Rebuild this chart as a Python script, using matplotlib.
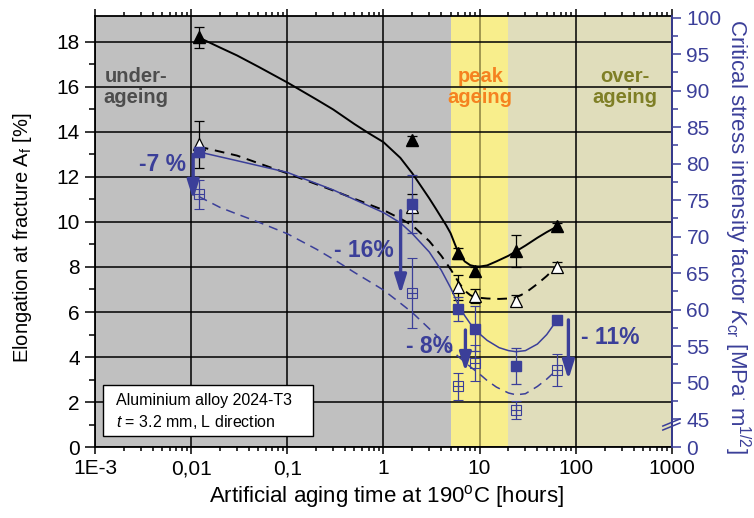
# -*- coding: utf-8 -*-
"""
Elongation at fracture and critical stress intensity factor of 2024-T3
versus artificial aging time at 190 C.
"""

import matplotlib
matplotlib.use("Agg")
import matplotlib.pyplot as plt
from matplotlib.patches import Rectangle

plt.rcParams['font.family'] = ['Liberation Sans', 'DejaVu Sans']
plt.rcParams['mathtext.fontset'] = 'custom'
plt.rcParams['mathtext.rm'] = 'Liberation Sans'
plt.rcParams['mathtext.it'] = 'Liberation Sans:italic'

# Colours
blue = '#3b3f99'
grayBg = '#c0c0c0'
yellowBg = '#f8ee8c'
beigeBg = '#e0ddbb'

# Measured points (aging time in hours)
times = [0.012, 2.0, 6.0, 9.0, 24.0, 64.0]

# Elongation at fracture A_f [%]
elongFilled = [18.2, 13.65, 8.6, 7.8, 8.7, 9.8]
elongFilledErr = [0.45, 0.15, 0.25, 0.2, 0.7, 0.15]
elongOpen = [13.45, 10.65, 7.1, 6.7, 6.5, 8.0]
elongOpenErr = [1.05, 0.6, 0.55, 0.3, 0.25, 0.2]

# Critical stress intensity factor K_cr [MPa m^1/2]
kcrFilled = [81.6, 74.5, 60.1, 57.4, 52.3, 58.6]
kcrFilledErr = [0.7, 4.0, 1.7, 3.1, 2.5, 0.0]
kcrOpen = [75.8, 62.3, 49.5, 52.7, 46.3, 51.7]
kcrOpenErr = [2.0, 4.8, 1.8, 2.4, 1.2, 2.2]

# Trend lines
trendElongFilledT = [0.012, 0.02, 0.03, 0.05, 0.1, 0.2, 0.3, 0.5, 0.7, 1, 1.5, 2,
                     2.5, 3, 3.5, 4, 4.5, 5, 5.5, 6, 7, 8, 9, 10, 12, 15, 20, 24,
                     30, 40, 50, 64]
trendElongFilled = [18.2, 17.75, 17.4, 16.9, 16.2, 15.45, 15.0, 14.35, 13.95, 13.55,
                    12.85, 12.16, 11.55, 11.05, 10.6, 10.2, 9.85, 9.5, 9.05, 8.65,
                    8.25, 8.08, 8.03, 8.02, 8.07, 8.25, 8.5, 8.7, 8.95, 9.3, 9.55,
                    9.8]
trendElongOpenT = [0.012, 0.03, 0.1, 0.3, 1, 1.5, 2, 3, 4, 5, 6, 7, 8, 9, 12, 16,
                   20, 24, 30, 40, 50, 64]
trendElongOpen = [13.35, 12.95, 12.16, 11.4, 10.53, 10.15, 9.85, 9.15, 8.5, 7.9,
                  7.35, 6.95, 6.75, 6.65, 6.6, 6.58, 6.6, 6.65, 6.85, 7.25, 7.6,
                  8.05]
trendKcrFilledT = [0.012, 0.03, 0.1, 0.3, 1, 1.5, 2, 3, 4, 5, 6, 7, 8, 9, 10, 12,
                   16, 20, 24, 30, 40, 50, 64]
trendKcrFilled = [81.6, 80.4, 78.8, 76.4, 73.3, 71.9, 70.4, 67.9, 65.4, 63.0, 60.7,
                  59.2, 58.1, 57.3, 56.7, 55.8, 54.8, 54.4, 54.25, 54.4, 55.3,
                  56.6, 58.6]
trendKcrOpenT = [0.012, 0.02, 0.03, 0.05, 0.1, 0.2, 0.33, 0.5, 1, 1.5, 2, 3, 4, 5,
                 6, 8, 10, 12, 15, 20, 24, 30, 40, 50, 64]
trendKcrOpen = [75.5, 74.0, 73.1, 72.0, 70.4, 68.3, 66.6, 65.1, 62.7, 60.9, 59.6,
                57.4, 55.8, 54.6, 53.6, 52.2, 51.2, 50.3, 49.4, 48.6, 48.35, 48.5,
                49.5, 50.5, 51.8]

# Loss arrows: (time, start, end, label, label time, label y) in left axis units
arrows = [(0.0105, 13.0, 11.0, '-7 %', 0.0050, 12.55),
          (1.51, 10.5, 6.8, '- 16%', 0.62, 8.75),
          (7.13, 5.2, 3.35, '- 8%', 3.05, 4.45),
          (84.0, 5.65, 3.0, '- 11%', 230.0, 4.85)]

xTicks = [1e-3, 1e-2, 1e-1, 1, 10, 100, 1000]
xTickLabels = ['1E-3', '0,01', '0,1', '1', '10', '100', '1000']
kcrTicks = [45, 50, 55, 60, 65, 70, 75, 80, 85, 90, 95, 100]
kcrBottom = 41.2

fig = plt.figure(figsize=(7.54, 5.18), dpi=100)
ax = fig.add_axes([0.126, 0.137, 0.765, 0.832])
ax2 = ax.twinx()

# Ageing regions
ax.axvspan(1e-3, 5, color=grayBg, zorder=0, lw=0)
ax.axvspan(5, 20, color=yellowBg, zorder=0, lw=0)
ax.axvspan(20, 1000, color=beigeBg, zorder=0, lw=0)

ax.set_xscale('log')
ax.set_xlim(1e-3, 1000)
ax.set_ylim(0, 19.15)
ax2.set_ylim(kcrBottom, 100.2)

# Grid settings
ax.set_axisbelow(True)
ax.set_yticks(range(0, 19, 2))
ax.set_yticks(range(1, 19, 2), minor=True)
ax.set_xticks(xTicks)
ax.set_xticklabels(xTickLabels)
ax.grid(True, which='major', color='black', lw=1.1)
for gl, t in zip(ax.get_xgridlines(), xTicks):
    if t == 10:
        gl.set_color('#8a8040')

ax.tick_params(axis='both', which='both', direction='out', labelsize=15,
               top=True, width=1.1)
ax.tick_params(axis='y', which='major', length=7, pad=4)
ax.tick_params(axis='y', which='minor', length=4.3)
ax.tick_params(axis='x', which='major', length=4.8, pad=4)
ax.tick_params(axis='x', which='minor', length=2.6)
for s in ax.spines.values():
    s.set_linewidth(1.3)

# Right axis (broken: 0 at the bottom, then 45 ... 100)
ax2.set_yticks([kcrBottom] + kcrTicks)
ax2.set_yticklabels(['0'] + [str(v) for v in kcrTicks])
ax2.set_yticks([v + 2.5 for v in kcrTicks[:-1]], minor=True)
ax2.tick_params(axis='y', which='both', direction='out', colors=blue,
                labelsize=15, width=1.1)
ax2.tick_params(axis='y', which='major', length=6.5, pad=4)
ax2.tick_params(axis='y', which='minor', length=4)
ax2.spines['right'].set_color(blue)
ax2.spines['right'].set_linewidth(1.3)
for side in ['left', 'top', 'bottom']:
    ax2.spines[side].set_visible(False)
bx = [1 - 9 / 577, 1 + 8 / 577]
for off in [0, 4]:
    ax2.plot(bx, [(447 - 426 - off) / 431, (447 - 419 - off) / 431],
             transform=ax2.transAxes, color=blue, lw=1.1, clip_on=False)

# Trend lines
ax.plot(trendElongFilledT, trendElongFilled, color='black', lw=1.4, zorder=3)
ax.plot(trendElongOpenT, trendElongOpen, color='black', lw=1.4,
        linestyle=(0, (5, 3.5)), zorder=3)
ax2.plot(trendKcrFilledT, trendKcrFilled, color=blue, lw=1.1, zorder=3)
ax2.plot(trendKcrOpenT, trendKcrOpen, color=blue, lw=1.1,
         linestyle=(0, (6, 4)), zorder=3)

# Measured points with scatter
ax.errorbar(times, elongFilled, yerr=elongFilledErr, fmt='^', color='black',
            ms=8.5, capsize=3.3, elinewidth=0.9, capthick=0.9, zorder=4)
ax.errorbar(times, elongOpen, yerr=elongOpenErr, fmt='^', color='black',
            mfc='white', mec='black', mew=0.9, ms=8.5, capsize=3.3,
            elinewidth=0.9, capthick=0.9, zorder=4)
ax2.errorbar(times, kcrFilled, yerr=kcrFilledErr, fmt='s', color=blue,
             ms=6.5, capsize=3.3, elinewidth=0.9, capthick=0.9, zorder=4)
ax2.errorbar(times, kcrOpen, yerr=kcrOpenErr, fmt='s', color=blue,
             mfc='none', mec=blue, mew=0.8, ms=6.5, capsize=3.3,
             elinewidth=0.9, capthick=0.9, zorder=4)
ax2.plot(times, kcrOpen, '+', color=blue, ms=6.5, mew=0.8, zorder=4)

# Loss arrows and labels
for t, y0, y1, label, lt, ly in arrows:
    ax.annotate('', xy=(t, y1), xytext=(t, y0),
                arrowprops=dict(arrowstyle='-|>,head_length=0.7,head_width=0.22',
                                color=blue, lw=2.4, mutation_scale=16,
                                shrinkA=0, shrinkB=0), zorder=5)
    ax.text(lt, ly, label, color=blue, fontsize=16.5, fontweight='bold',
            ha='center', va='center', zorder=5)

# Region labels
ax.text(0.00267, 16.0, 'under-\nageing', color='#4d4d4d', fontsize=14.5,
        fontweight='bold', ha='center', va='center', linespacing=1.1)
ax.text(10.2, 16.0, 'peak\nageing', color='#f58220', fontsize=14.5,
        fontweight='bold', ha='center', va='center', linespacing=1.1)
ax.text(327, 16.0, 'over-\nageing', color='#7f7f26', fontsize=14.5,
        fontweight='bold', ha='center', va='center', linespacing=1.1)

# Material box
ax.add_patch(Rectangle((0.0133, 0.0255), 0.365, 0.118, transform=ax.transAxes,
                       facecolor='white', edgecolor='black', lw=1.0, zorder=6))
ax.text(0.0364, 0.109, 'Aluminium alloy 2024-T3', transform=ax.transAxes,
        fontsize=11.5, va='center', zorder=7)
ax.text(0.0364, 0.0587, r'$t$ = 3.2 mm, L direction', transform=ax.transAxes,
        fontsize=11.5, va='center', zorder=7)

# Axis labels
fig.text(386 / 754, 1 - 497 / 518,
         r'Artificial aging time at 190$^{\mathrm{o}}$C [hours]',
         fontsize=16, ha='center', va='center')
fig.text(23 / 754, 1 - 238 / 518, r'Elongation at fracture A$_{\mathrm{f}}$ [%]',
         fontsize=14.5, ha='center', va='center', rotation=90)
fig.text(737 / 754, 1 - 236 / 518,
         r'Critical stress intensity factor $K_{\mathrm{cr}}$ [MPa$^{\cdot}$ m$^{1/2}$]',
         fontsize=16, ha='center', va='center', rotation=270, color=blue)

plt.savefig('out.png', dpi=100)
